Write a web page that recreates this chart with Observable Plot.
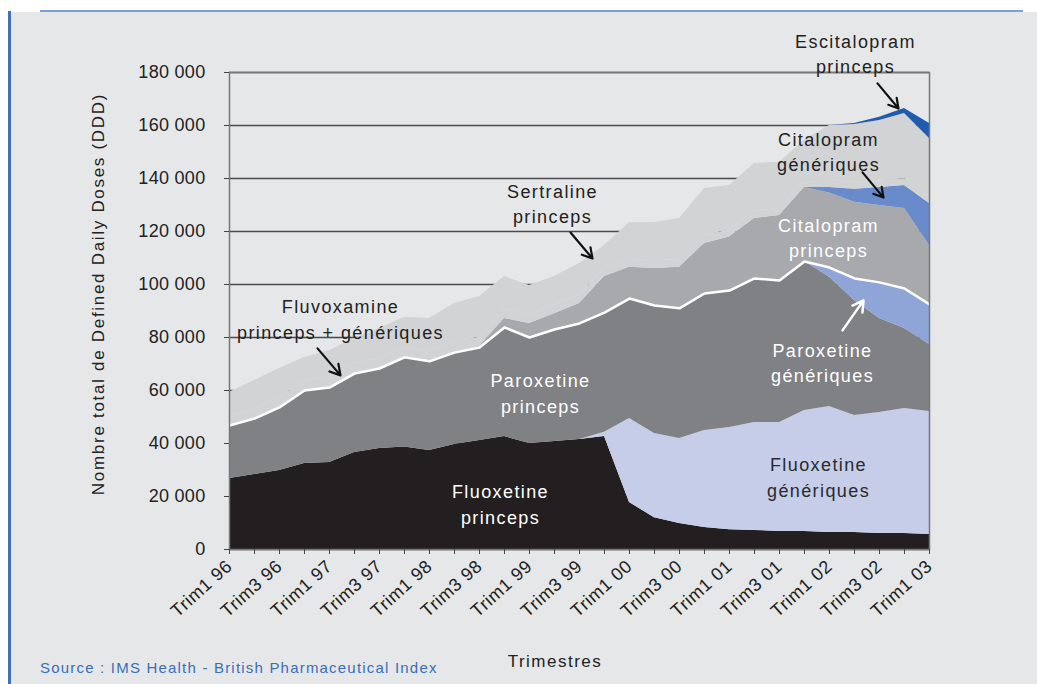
<!DOCTYPE html>
<html><head><meta charset="utf-8">
<script src="https://cdn.jsdelivr.net/npm/d3@7"></script>
<script src="https://cdn.jsdelivr.net/npm/@observablehq/plot@0.6"></script>
<style>
html,body{margin:0;padding:0;background:#fff;}
#wrap{position:relative;width:1037px;height:684px;overflow:hidden;}
#bg{position:absolute;left:11px;top:12px;right:0;bottom:0;background:#e6e7e8;}
#lb{position:absolute;left:8px;top:11px;width:2.5px;bottom:0;background:#3f72bb;}
#tl{position:absolute;left:40px;top:10px;width:983px;height:1.5px;background:#7fa0d4;}
#chart{position:absolute;left:0;top:0;}
</style></head><body>
<div id="wrap"><div id="bg"></div><div id="lb"></div><div id="tl"></div><div id="chart"></div></div>
<script>
const quarters = ["Trim1 96","Trim2 96","Trim3 96","Trim4 96","Trim1 97","Trim2 97","Trim3 97","Trim4 97",
  "Trim1 98","Trim2 98","Trim3 98","Trim4 98","Trim1 99","Trim2 99","Trim3 99","Trim4 99",
  "Trim1 00","Trim2 00","Trim3 00","Trim4 00","Trim1 01","Trim2 01","Trim3 01","Trim4 01",
  "Trim1 02","Trim2 02","Trim3 02","Trim4 02","Trim1 03"];

const seriesNames = ["Fluoxetine princeps","Fluoxetine génériques","Paroxetine princeps","Paroxetine génériques",
  "Citalopram princeps","Citalopram génériques","Fluvoxamine princeps + génériques","Sertraline princeps","Escitalopram princeps"];

const fluoxetinePrinceps = [26800,28300,29800,32500,32800,36600,38100,38700,37400,39600,41100,42600,40000,40800,41500,42600,17700,12000,9800,8300,7500,7200,6800,6800,6400,6400,6000,6000,5700];
const fluoxetineGeneriques = [0,0,0,0,0,0,0,0,0,0,0,0,0,0,0,1600,31700,31800,32100,36600,38500,40700,41100,45700,47600,44200,45700,47200,46400];
const paroxetinePrinceps = [20000,21100,23800,27500,28300,29800,30200,33800,33600,34700,35100,41200,40000,42200,43800,45200,45300,48300,49100,51700,51700,54400,53600,56200,48700,43400,35500,30200,25300];
const paroxetineGeneriques = [0,0,0,0,0,0,0,0,0,0,0,0,0,0,0,0,0,0,0,0,0,0,0,0,3700,8300,13600,15100,15100];
const citalopramPrinceps = [0,0,0,0,0,0,0,0,0,0,500,3400,5300,6000,7500,13600,11800,13900,15500,18900,20200,22600,24500,27900,28100,28700,29000,30200,22200];
const citalopramGeneriques = [0,0,0,0,0,0,0,0,0,0,0,0,0,0,0,0,0,0,0,0,0,0,0,0,2100,4900,6800,8700,15900];
const fluvoxamine = [3500,3600,3700,3700,3800,3800,3700,3700,3600,3600,3500,3400,3300,3300,3200,3100,3000,3000,2900,2900,2800,2800,2700,2700,2600,2600,2500,2500,2400];
const sertralinePrinceps = [9000,10800,11000,8800,10200,9400,11400,11400,12600,14900,15300,12400,11000,10700,11900,8600,13900,14400,15500,17800,16700,18000,17400,15100,20800,21900,22800,24600,22100];
const escitalopramPrinceps = [0,0,0,0,0,0,0,0,0,0,0,0,0,0,0,0,0,0,0,0,0,0,0,0,0,400,1200,1900,5700];

const yTicks = [0,20000,40000,60000,80000,100000,120000,140000,160000,180000];

const seriesValues = [fluoxetinePrinceps,fluoxetineGeneriques,paroxetinePrinceps,paroxetineGeneriques,
  citalopramPrinceps,citalopramGeneriques,fluvoxamine,sertralinePrinceps,escitalopramPrinceps];

const rows = seriesNames.flatMap((s,k)=>quarters.map((q,i)=>({i, q, series:s, value:seriesValues[k][i]})));
const paroxTotal = quarters.map((q,i)=>({i, v: fluoxetinePrinceps[i]+fluoxetineGeneriques[i]+paroxetinePrinceps[i]+paroxetineGeneriques[i]}));

const fmt = d => d3.format(",")(d).replace(/,/g," ");

const plot = Plot.plot({
  width:1037, height:684,
  marginLeft:229, marginRight:108, marginTop:72, marginBottom:135,
  style:{background:"transparent", fontFamily:"'Liberation Sans', Arial, sans-serif", fontSize:"17px", color:"#222", overflow:"visible"},
  x:{domain:[0,28]},
  y:{domain:[0,180000]},
  color:{domain:seriesNames, range:["#231f20","#c5cde9","#808184","#8fa5d8","#a7a9ac","#6a8bcb","#d1d3d4","#d1d3d4","#1f5cad"]},
  marks:[
    Plot.ruleY(yTicks, {stroke:"#4a4a4c", strokeWidth:1.6}),
    Plot.areaY(rows, {x:"i", y:"value", fill:"series", order:seriesNames, curve:"linear"}),
    Plot.lineY(paroxTotal, {x:"i", y:"v", stroke:"white", strokeWidth:2.5}),
    Plot.frame({stroke:"#777", strokeWidth:1.5}),
    Plot.axisY({ticks:yTicks, tickFormat:fmt, tickSize:5, tickPadding:19, fontSize:18, label:null, stroke:"#444"}),
    Plot.axisX({ticks:d3.range(0,29,1), tickFormat:()=>"", tickSize:5, label:null, stroke:"#444"}),
    Plot.axisX({ticks:d3.range(0,29,2), tickFormat:d=>quarters[d], tickRotate:-42, tickSize:0, tickPadding:14, fontSize:18, label:null}),
    Plot.arrow([
      {x1:25.92,y1:175900,x2:26.76,y2:166400},
      {x1:25.32,y1:142300,x2:26.16,y2:132800},
      {x1:13.64,y1:119600,x2:14.52,y2:109800},
      {x1:3.52,y1:75900,x2:4.44,y2:65700}
    ], {x1:"x1",y1:"y1",x2:"x2",y2:"y2", stroke:"#111", strokeWidth:2.2, headLength:8}),
    Plot.arrow([{x1:24.52,y1:82700,x2:25.36,y2:94000}], {x1:"x1",y1:"y1",x2:"x2",y2:"y2", stroke:"white", strokeWidth:2.5, headLength:8}),
    Plot.text([
      {x:25.04,y:187600,t:"Escitalopram\nprinceps",c:"#222"},
      {x:23.96,y:150600,t:"Citalopram\ngénériques",c:"#222"},
      {x:12.92,y:131000,t:"Sertraline\nprinceps",c:"#222"},
      {x:23.96,y:118100,t:"Citalopram\nprinceps",c:"white"},
      {x:4.44,y:87500,t:"Fluvoxamine\nprinceps + génériques",c:"#222"},
      {x:12.44,y:59600,t:"Paroxetine\nprinceps",c:"white"},
      {x:23.72,y:70950,t:"Paroxetine\ngénériques",c:"white"},
      {x:10.84,y:17700,t:"Fluoxetine\nprinceps",c:"white"},
      {x:23.56,y:27900,t:"Fluoxetine\ngénériques",c:"#2a2a2a"}
    ], {x:"x", y:"y", text:"t", fill:"c", fontSize:18, lineHeight:1.42, textAnchor:"middle"})
  ]
});
document.getElementById("chart").appendChild(plot);
const svg = d3.select(plot);
svg.selectAll("text").style("letter-spacing","0.3px");
svg.selectAll("g[aria-label='x-axis tick label'] text").style("letter-spacing","0.6px");
svg.selectAll("g[aria-label='text'] text").style("letter-spacing","1.4px");
svg.append("text").attr("transform","translate(104,294) rotate(-90)").attr("text-anchor","middle")
  .attr("font-size",17).attr("fill","#222").style("letter-spacing","1.7px")
  .text("Nombre total de Defined Daily Doses (DDD)");
svg.append("text").attr("x",555).attr("y",667).attr("text-anchor","middle")
  .attr("font-size",17).attr("fill","#222").style("letter-spacing","1.5px").text("Trimestres");
svg.append("text").attr("x",40).attr("y",673).attr("text-anchor","start")
  .attr("font-size",15).attr("fill","#3a6fb8").style("letter-spacing","1.2px").text("Source : IMS Health - British Pharmaceutical Index");
</script>
</body></html>
